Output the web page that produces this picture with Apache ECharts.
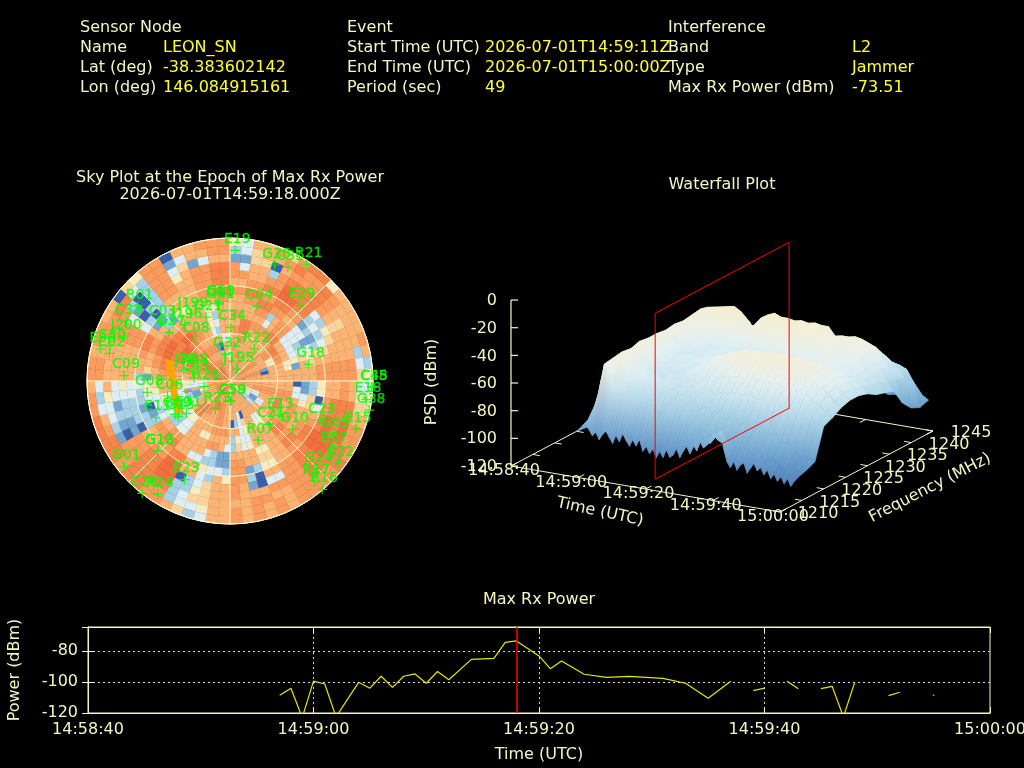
<!DOCTYPE html>
<html><head><meta charset="utf-8">
<style>html,body{margin:0;padding:0;background:#000}#c{width:1024px;height:768px}</style>
<script src="https://cdn.jsdelivr.net/npm/echarts@6/dist/echarts.min.js"></script>
</head><body><div id="c"></div>
<script>
// ---------- header text ----------
const headerCol1 = [['Sensor Node',''],['Name','LEON_SN'],['Lat (deg)','-38.383602142'],['Lon (deg)','146.084915161']];
const headerCol2 = [['Event',''],['Start Time (UTC)','2026-07-01T14:59:11Z'],['End Time (UTC)','2026-07-01T15:00:00Z'],['Period (sec)','49']];
const headerCol3 = [['Interference',''],['Band','L2'],['Type','Jammer'],['Max Rx Power (dBm)','-73.51']];
// ---------- power time series (seconds after 14:58:40, dBm) ----------
const timeTickLabels = ['14:58:40','14:59:00','14:59:20','14:59:40','15:00:00'];
const powerTimes = [17,18,19,20,21,22,24,25,26,27,28,29,30,31,32,34,36,37,38,39,40,41,42,44,46,48,51,53,55,57,58,59,60,61,62,63,64,65,66,67,68,69,71,72];
const powerValues = [-108.6,-104,-123,-99.4,-101.3,-122.5,-100.2,-104,-96.3,-103.5,-96.3,-94.8,-100.8,-93.2,-98.5,-85.4,-84.7,-74.4,-73.5,-78.3,-83.2,-91.4,-86.5,-95,-97,-96.4,-97.6,-100.8,-110.5,-99.5,null,-105.6,-104,null,-99.5,-104.3,null,-104.3,-102.8,-122.5,-100.2,null,-108.8,-106.6];
const powerIsolated = [[75,-108.6]];
const maxPowerTime = 38;
// ---------- sky plot cells: ring (5 deg zenith bins) by azimuth (5 deg bins), colour level 0..9 ----------
const skyLevels = [
"777777 666677 666666 666666 777766 777777 777777 777777 777777 777777 888888 777777",
"667766 776677 666777 666666 663366 667766 776677 888877 777766 888877 777888 776666",
"776677 666677 667766 666644 332166 666677 667766 777766 666666 777788 887777 776666",
"667766 666677 667766 667733 112266 666666 667788 776666 664433 666777 887766 666655",
"776666 667766 661066 667766 336666 660366 667766 778866 211233 666677 778877 771066",
"667766 666677 446666 667766 666633 665320 667766 668864 322134 667788 887766 666633",
"778866 667788 776666 667788 776644 664366 777766 664433 223346 667788 998877 663266",
"668877 778866 664466 667766 667766 663342 666644 663322 223366 667788 889987 664366",
"776666 367733 334166 033677 778866 664352 367766 663322 334466 778899 988766 664266",
"666677 267733 235666 113466 667766 446666 112366 667766 323345 667788 876666 664466",
"667788 776633 134566 225566 778866 556677 112233 668877 210344 156677 662144 666677",
"778877 887712 125677 440367 887766 442177 233466 887766 221223 266788 611266 667788",
"667788 998823 235677 667788 998877 660277 462366 997766 022233 666677 320266 667788",
"776677 988832 456677 668899 998877 330167 665320 998877 112234 666677 402277 667788",
"736627 888876 566677 778888 998877 776667 665422 998877 012133 666677 310277 467788",
"115506 777876 566677 668899 888877 667766 665532 888877 123346 666677 720277 351366",
"235667 877876 666235 345677 887777 676767 664332 778878 876323 776677 883277 136677",
"436675 788466 667624 345677 787777 676767 663256 778878 888776 776776 605477 066777"
];
const skyPalette = ['#3a5ea9','#74a5cf','#a9d1e6','#deeef2','#f5ecc0','#fdd49a','#fcb474','#fa9c5e','#f6854c','#f2703e'];
// ---------- satellites: zenith angle (deg), azimuth (deg) ----------
const satNames = ['E19','G26','C31','R21','E29','C04','C34','R22','G18','G32','J195','C38','C45','E18','G38','E15','C23','G05','E07','C22','G24','R17','R16','E13','G10','C21','R07','C50','C59','R23','R26','R08','C43','J26','C06','G08','C09','E11','G09','G13','E31','G19','G12','G01','E23','C28','R24','R01','C33','J200','E30','C30','C02','C03','G27','J199','G69','G61','C11','C08','J196','G21'];
const satZen = [82.3,78.2,80.3,87.9,64.9,50,33.6,25.3,50.6,17,8.6,89.4,89.4,86.4,89.5,84.9,61.7,73,77.3,85.5,77.7,82.3,89.5,37.4,49.8,36.7,41.2,12.6,12.6,20,16.7,24.2,22.8,30,40.4,52.5,66.8,52.2,40.5,39.5,34.2,63.3,63.3,85.6,68.4,89.8,84.6,74.8,75.2,72.3,83.8,78.6,77.9,57,49,48.8,50,48.4,49.2,34.7,45.2,43];
const satAz = [2.3,21,27,33.3,42.8,20.1,0.4,37.2,78,350,29,92.4,92.4,97.8,101.8,110.9,113.4,117.2,123.6,127.1,135.4,139.9,139.6,125,127.6,138,154.4,179,179,207.4,257.7,284,275.3,283,256.5,262.2,272.9,243.7,238.8,235.4,233.5,226,226,231,204.8,218,212.5,309,300,293,283.9,286.3,282.9,310,308.7,329.8,352,351.3,351.6,319.2,321.2,339.4];
const jammerTrackZen = [40.4,38.6,35.7,35.9,36.4,37.5];
const jammerTrackAz = [289,282,269.3,259.2,247.3,237.1];
const jammerRayZen = [0,31.1];
const jammerRayAz = [257.6,257.6];
// ---------- waterfall: PSD (dBm) rows by time (s after 14:58:40), columns by frequency (MHz) ----------
const wfTimes = [14,16,18,20,22,24,26,28,30,32,34,36,38,40,42,44,46,48,50,52,54,56,58,60,62,64,66,68,70,72,74,76,78,80];
const wfFreqs = [1214,1216,1218,1220,1222,1224,1226,1228,1230,1232,1234,1236,1238,1240,1242,1244];
const wfPsd = [
[-96,-97,-98,-96,-99,-97,-100,-98,-101,-99,-100,-102,-99,-101,-100,-103],
[-90,-88,-92,-90,-93,-90,-94,-91,-94,-92,-95,-93,-95,-96,-98,-100],
[-92,-72,-80,-78,-80,-78,-80,-76,-78,-80,-78,-80,-82,-88,-95,-100],
[-94,-48,-47,-46,-47,-45,-46,-46,-47,-46,-47,-46,-45,-58,-78,-98],
[-97,-56,-50,-48,-52,-47,-50,-49,-52,-51,-50,-47,-43,-56,-74,-97],
[-92,-66,-56,-54,-58,-55,-57,-56,-58,-55,-53,-49,-42,-55,-72,-98],
[-99,-60,-60,-56,-62,-58,-60,-58,-60,-57,-52,-47,-41,-54,-70,-96],
[-94,-72,-62,-60,-64,-60,-62,-59,-60,-56,-53,-48,-40,-52,-72,-99],
[-101,-68,-65,-58,-66,-62,-60,-57,-62,-58,-54,-46,-39,-50,-70,-97],
[-96,-76,-62,-63,-60,-63,-58,-60,-58,-60,-52,-47,-42,-53,-74,-100],
[-104,-70,-68,-60,-64,-60,-60,-56,-60,-57,-56,-50,-50,-60,-76,-98],
[-98,-80,-64,-66,-60,-58,-58,-58,-62,-60,-55,-50,-51,-62,-78,-101],
[-108,-74,-70,-62,-62,-56,-56,-54,-60,-62,-54,-47,-44,-56,-74,-99],
[-100,-84,-66,-66,-58,-54,-52,-54,-58,-58,-52,-46,-41,-52,-70,-96],
[-106,-78,-72,-60,-60,-52,-50,-50,-56,-60,-53,-45,-39,-50,-72,-98],
[-97,-86,-68,-64,-56,-52,-48,-50,-58,-56,-52,-47,-41,-53,-70,-100],
[-104,-80,-74,-62,-58,-50,-47,-47,-55,-58,-54,-46,-41,-52,-68,-97],
[-100,-88,-70,-66,-54,-49,-46,-48,-56,-57,-52,-47,-42,-54,-72,-99],
[-96,-82,-76,-62,-56,-48,-45,-46,-54,-58,-53,-45,-41,-52,-69,-96],
[-102,-90,-72,-64,-53,-47,-46,-47,-56,-56,-52,-46,-42,-53,-71,-98],
[-98,-84,-78,-60,-55,-47,-44,-45,-53,-57,-54,-46,-41,-52,-68,-100],
[-106,-92,-74,-63,-52,-46,-45,-46,-55,-55,-51,-45,-42,-54,-70,-97],
[-100,-88,-80,-60,-54,-47,-44,-45,-53,-56,-53,-46,-42,-56,-71,-96],
[-104,-94,-76,-64,-53,-46,-46,-47,-54,-55,-52,-47,-48,-60,-73,-99],
[-101,-90,-82,-62,-55,-48,-45,-46,-52,-56,-53,-48,-47,-58,-70,-97],
[-108,-96,-78,-66,-54,-47,-47,-48,-54,-55,-52,-48,-47,-58,-72,-98],
[-104,-92,-84,-62,-56,-49,-46,-47,-52,-56,-53,-49,-46,-56,-69,-95],
[-110,-98,-80,-68,-55,-48,-48,-49,-55,-56,-54,-49,-47,-58,-71,-97],
[-106,-96,-88,-64,-58,-51,-49,-50,-54,-57,-55,-50,-49,-60,-70,-96],
[-112,-100,-86,-70,-58,-53,-52,-52,-56,-58,-56,-52,-51,-60,-69,-94],
[-108,-102,-92,-68,-62,-56,-55,-55,-58,-60,-60,-58,-59,-64,-70,-94],
[-104,-100,-96,-72,-64,-60,-58,-58,-60,-62,-63,-62,-64,-68,-72,-92],
[-106,-102,-94,-74,-68,-64,-62,-62,-64,-66,-68,-70,-72,-74,-80,-93],
[-102,-100,-97,-75,-72,-68,-66,-66,-68,-72,-74,-76,-88,-95,-98,-96]
];
// front edge of the surface at 1214 MHz, one value per second from 14 s to 80 s
const wfFrontEdge = [-96,-94,-91,-90,-93,-97,-94,-99,-95,-92,-96,-100,-94,-98,-92,-96,-100,-95,-99,-94,-102,-98,-103,-99,-105,-100,-104,-98,-103,-101,-96,-102,-97,-93,-98,-91,-95,-88,-92,-85,-88,-80,-84,-77,-90,-99,-103,-98,-104,-100,-98,-105,-101,-97,-102,-99,-104,-100,-106,-102,-107,-103,-108,-104,-109,-105,-102];
const wfFrontStart = 14;
const wfTimeTicks = [0,20,40,60,80];
const wfFreqTicks = [1210,1215,1220,1225,1230,1235,1240,1245];
const wfPsdTicks = [0,-20,-40,-60,-80,-100,-120];
const wfMarkerFreqs = [1213.75,1244.4];

// ---------- styling ----------
const FONT = 'DejaVu Sans';
const CREAM = '#f5f5c4';
const VALUE = '#ffff33';
const GREEN = '#00ff00';
const SURF_MIN = -110, SURF_MAX = -38;
const surfColors = ['#4f7fb8','#6194c8','#77aad4','#8fc0de','#a9d3e6','#c8e4ef','#e2f1f5','#f1f0e0','#f7edc9'];
function surfColor(z){
  const t = Math.max(0, Math.min(1, (z - SURF_MIN) / (SURF_MAX - SURF_MIN)));
  return echarts.color.lerp(t, surfColors);
}

// 3D view: projection of (time, frequency, PSD) into the hidden helper grid
const VIEW = {ox:71, oy:266, tx:269, ty:46, fx:153, fy:-81, z:1.383};
function project(tSec, fMHz, psd){
  const a = tSec / 80, b = (fMHz - 1210) / 35;
  return [VIEW.ox + VIEW.tx * a + VIEW.fx * b,
          VIEW.oy + VIEW.ty * a + VIEW.fy * b - VIEW.z * (psd + 120)];
}

// ---------- series data ----------
const skyData = [];
skyLevels.forEach((row, ring) => {
  row.replace(/\s/g,'').split('').forEach((d, i) => skyData.push([ring * 5, i * 5, +d]));
});
const satData = satNames.map((n, i) => ({name:n, value:[satZen[i], satAz[i]]}));
const surfCells = [];
for (let c = wfFreqs.length - 2; c >= 1; c--) {
  for (let r = 0; r < wfTimes.length - 1; r++) surfCells.push([r, c]);
}
for (let i = 0; i < wfFrontEdge.length - 1; i++) surfCells.push([i, 0]);

const graphics = [];
[[headerCol1,80,163],[headerCol2,347,485],[headerCol3,668,852]].forEach(([rows,x1,x2]) => {
  rows.forEach((r,i) => {
    const y = 28 + i * 20;
    graphics.push({type:'text', x:x1, y:y, style:{text:r[0], fill:CREAM, font:'16px "'+FONT+'"', verticalAlign:'middle'}});
    if (r[1]) graphics.push({type:'text', x:x2, y:y, style:{text:r[1], fill:VALUE, font:'16px "'+FONT+'"', verticalAlign:'middle'}});
  });
});
[['Sky Plot at the Epoch of Max Rx Power',230,178],['2026-07-01T14:59:18.000Z',230,195],['Waterfall Plot',722,185],['Max Rx Power',539,600]].forEach(t => {
  graphics.push({type:'text', x:t[1], y:t[2], style:{text:t[0], fill:CREAM, font:'16px "'+FONT+'"', align:'center', verticalAlign:'middle'}});
});

function renderSky(params, api){
  const cs = params.coordSys;
  const z0 = api.value(0), az = api.value(1);
  const p0 = api.coord([z0, az]), p1 = api.coord([z0 + 5, az]);
  const r0 = Math.hypot(p0[0]-cs.cx, p0[1]-cs.cy), r = Math.hypot(p1[0]-cs.cx, p1[1]-cs.cy);
  const color = api.visual('color');
  return {type:'sector', shape:{cx:cs.cx, cy:cs.cy, r0, r,
      startAngle:(az-90)*Math.PI/180, endAngle:(az+5-90)*Math.PI/180, clockwise:true},
      style:{fill:color, stroke:color, lineWidth:0.4}};
}
// height of the mesh edge of column c at second t (the straight edge between two rows)
function meshEdgeAt(t, c){
  const i = (t - wfTimes[0]) / 2, lo = Math.floor(i);
  if (lo === i) return wfPsd[i][c];
  return (wfPsd[lo][c] + wfPsd[lo + 1][c]) / 2;
}
function renderSurface(params, api){
  const r = api.value(0), c = api.value(1);
  let verts;
  if (c === 0) {
    const t0 = wfFrontStart + r, t1 = t0 + 1;
    verts = [[t0,wfFreqs[0],wfFrontEdge[r]],[t1,wfFreqs[0],wfFrontEdge[r+1]],
             [t1,wfFreqs[1],meshEdgeAt(t1,1)],[t0,wfFreqs[1],meshEdgeAt(t0,1)]]
      .map(v => ({p:api.coord(project(v[0],v[1],v[2])), z:v[2]}));
  } else {
    verts = [[r,c],[r+1,c],[r+1,c+1],[r,c+1]].map(([i,j]) => {
      const z = wfPsd[i][j];
      return {p:api.coord(project(wfTimes[i], wfFreqs[j], z)), z};
    });
  }
  const sorted = verts.slice().sort((a,b)=>a.p[1]-b.p[1]);
  const grad = new echarts.graphic.LinearGradient(0,0,0,1,[
    {offset:0,color:surfColor(sorted[0].z)},
    {offset:1,color:surfColor(sorted[3].z)}]);
  return {type:'polygon', shape:{points:verts.map(v=>v.p)}, style:{fill:grad, stroke:grad, lineWidth:0.7}};
}
function lineEl(a,b,color,w){
  return {type:'line', shape:{x1:a[0],y1:a[1],x2:b[0],y2:b[1]}, style:{stroke:color,lineWidth:w||1}};
}
function labelEl(text,p,align,rot){
  return {type:'text', x:p[0], y:p[1]+1, rotation:rot||0,
    style:{text, fill:CREAM, font:'16px "'+FONT+'"', align:align||'center', verticalAlign:'middle'}};
}
function renderFrame(params, api){
  const P = (t,f,z)=>api.coord(project(t,f,z));
  const kids = [];
  const F0 = 1210, F1 = 1245, Z0 = -120;
  const a=P(0,F0,Z0), b=P(80,F0,Z0), c=P(80,F1,Z0), d=P(0,F1,Z0);
  kids.push(lineEl(a,b,CREAM), lineEl(b,c,CREAM), lineEl(c,d,CREAM), lineEl(d,a,CREAM));
  kids.push(lineEl(P(0,F0,Z0),P(0,F0,0),CREAM,1.2));
  wfPsdTicks.forEach(z=>{
    const p=P(0,F0,z);
    kids.push(lineEl(p,[p[0]+7,p[1]],CREAM,1.2));
    kids.push(labelEl(String(z),[p[0]-14,p[1]],'right'));
  });
  wfTimeTicks.forEach((t,i)=>{
    const p=P(t,F0,Z0), q=P(t,F1,Z0);
    kids.push(lineEl(p,[p[0]+6,p[1]-3],CREAM));
    kids.push(lineEl(q,[q[0]-6,q[1]+3],CREAM));
    kids.push(labelEl(timeTickLabels[i],[p[0]-7,p[1]+4]));
  });
  wfFreqTicks.forEach(f=>{
    const p=P(80,f,Z0), q=P(0,f,Z0);
    kids.push(lineEl(p,[p[0]-7,p[1]-1.2],CREAM));
    kids.push(lineEl(q,[q[0]+7,q[1]+1.2],CREAM));
    kids.push(labelEl(String(f),[p[0]+38,p[1]+1]));
  });
  const base = a;
  kids.push(labelEl('Time (UTC)',[base[0]+89,base[1]+45],'center',-12*Math.PI/180));
  kids.push(labelEl('Frequency (MHz)',[base[0]+419,base[1]+21],'center',27*Math.PI/180));
  kids.push(labelEl('PSD (dBm)',[base[0]-79,base[1]-85],'center',Math.PI/2));
  return {type:'group', children:kids};
}
function renderMarker(params, api){
  const t = maxPowerTime, [f0,f1] = wfMarkerFreqs;
  const pts = [[t,f0,-120],[t,f1,-120],[t,f1,0],[t,f0,0]].map(v=>api.coord(project(v[0],v[1],v[2])));
  return {type:'polygon', shape:{points:pts}, style:{fill:'none', stroke:'#ff0000', lineWidth:1}};
}

const dashed = {show:true, showMinLine:false, showMaxLine:false, lineStyle:{color:'#d8d8d8', type:[2,3], width:1}};
const option = {
  backgroundColor:'#000',
  animation:false,
  textStyle:{fontFamily:FONT, fontSize:16, color:CREAM},
  graphic:graphics,
  polar:{center:[230,381], radius:143},
  angleAxis:{type:'value', min:0, max:360, startAngle:90, clockwise:true, interval:45, z:5, silent:true,
    axisLabel:{show:false}, axisTick:{show:false},
    axisLine:{show:true, lineStyle:{color:'#fffdd8',width:1}},
    splitLine:{show:true, lineStyle:{color:'#fffdd8',width:1}}},
  radiusAxis:{type:'value', min:0, max:90, interval:30, z:5, silent:true,
    axisLabel:{show:false}, axisTick:{show:false}, axisLine:{show:false},
    splitLine:{show:true, lineStyle:{color:'#fffdd8',width:1}}},
  grid:[
    {left:88, top:627, width:902, height:86, show:true, borderColor:CREAM, borderWidth:1, backgroundColor:'transparent', containLabel:false, outerBoundsMode:'none'},
    {left:440, top:200, width:584, height:340, show:false, containLabel:false, outerBoundsMode:'none'}
  ],
  xAxis:[
    {type:'value', gridIndex:0, min:0, max:80, interval:20, position:'bottom',
     axisLabel:{color:CREAM, fontSize:16, margin:9, showMinLabel:true, showMaxLabel:true, hideOverlap:false, formatter:v=>timeTickLabels[v/20]},
     axisLine:{lineStyle:{color:CREAM}}, axisTick:{inside:true, length:6, lineStyle:{color:CREAM}},
     splitLine:dashed,
     name:'Time (UTC)', nameLocation:'middle', nameGap:34, nameTextStyle:{color:CREAM, fontSize:16}},
    {type:'value', gridIndex:0, min:0, max:80, interval:20, position:'top',
     axisLabel:{show:false}, axisLine:{lineStyle:{color:CREAM}}, axisTick:{inside:true, length:6, lineStyle:{color:CREAM}}, splitLine:{show:false}},
    {type:'value', gridIndex:1, min:0, max:584, show:false}
  ],
  yAxis:[
    {type:'value', gridIndex:0, min:-120, max:-64.5, interval:20, position:'left',
     axisLabel:{color:CREAM, fontSize:16, margin:10, padding:[2,0,0,0], showMaxLabel:false},
     axisLine:{show:true, lineStyle:{color:CREAM}}, axisTick:{show:true, inside:true, length:6, lineStyle:{color:CREAM}},
     splitLine:dashed,
     name:'Power (dBm)', nameLocation:'middle', nameGap:65, nameTextStyle:{color:CREAM, fontSize:16}},
    {type:'value', gridIndex:0, min:-120, max:-64.5, interval:20, position:'right',
     axisLabel:{show:false}, axisLine:{show:true, lineStyle:{color:CREAM}}, axisTick:{show:true, inside:true, length:6, lineStyle:{color:CREAM}}, splitLine:{show:false}},
    {type:'value', gridIndex:1, min:0, max:340, inverse:true, show:false}
  ],
  visualMap:[{type:'continuous', show:false, seriesIndex:0, dimension:2, min:0, max:9, inRange:{color:skyPalette}}],
  series:[
    {id:'sky', type:'custom', coordinateSystem:'polar', z:1, silent:true, animation:false,
     renderItem:renderSky, data:skyData, encode:{radius:0, angle:1}},
    {type:'line', coordinateSystem:'polar', z:8, silent:true, symbol:'none',
     lineStyle:{color:'#ffa500', width:7}, data:jammerTrackZen.map((z,i)=>[z,jammerTrackAz[i]])},
    {type:'line', coordinateSystem:'polar', z:8, silent:true, symbol:'none',
     lineStyle:{color:'#ffa500', width:1}, data:jammerRayZen.map((z,i)=>[z,jammerRayAz[i]])},
    {type:'scatter', coordinateSystem:'polar', z:9, silent:true, data:satData,
     symbol:'path://M4.4 0H5.6V4.4H10V5.6H5.6V10H4.4V5.6H0V4.4H4.4Z', symbolSize:10,
     itemStyle:{color:GREEN},
     label:{show:true, position:'top', distance:1, offset:[2,2], color:GREEN, fontSize:14, textBorderColor:GREEN, textBorderWidth:0.3, formatter:p=>p.name}},
    {type:'line', xAxisIndex:0, yAxisIndex:0, silent:true, symbol:'none', connectNulls:false, clip:true,
     lineStyle:{color:'#e6e600', width:1.2},
     data:powerTimes.map((t,i)=>[t,powerValues[i]]),
     markLine:{silent:true, symbol:'none', label:{show:false}, lineStyle:{color:'#ff0000', width:1.5, type:'solid'}, data:[{xAxis:maxPowerTime}]}},
    {type:'scatter', xAxisIndex:0, yAxisIndex:0, silent:true, symbol:'rect', symbolSize:1.5, itemStyle:{color:'#e6e600'}, data:powerIsolated},
    {type:'custom', xAxisIndex:2, yAxisIndex:2, coordinateSystem:'cartesian2d', z:2, silent:true, renderItem:renderFrame, data:[[0,0]], clip:false},
    {type:'custom', xAxisIndex:2, yAxisIndex:2, coordinateSystem:'cartesian2d', z:3, silent:true, renderItem:renderSurface, data:surfCells, clip:false, encode:{x:0,y:1}},
    {type:'custom', xAxisIndex:2, yAxisIndex:2, coordinateSystem:'cartesian2d', z:4, silent:true, renderItem:renderMarker, data:[[0,0]], clip:false}
  ]
};
const chart = echarts.init(document.getElementById('c'), null, {renderer:'canvas', width:1024, height:768});
chart.setOption(option);
</script></body></html>
